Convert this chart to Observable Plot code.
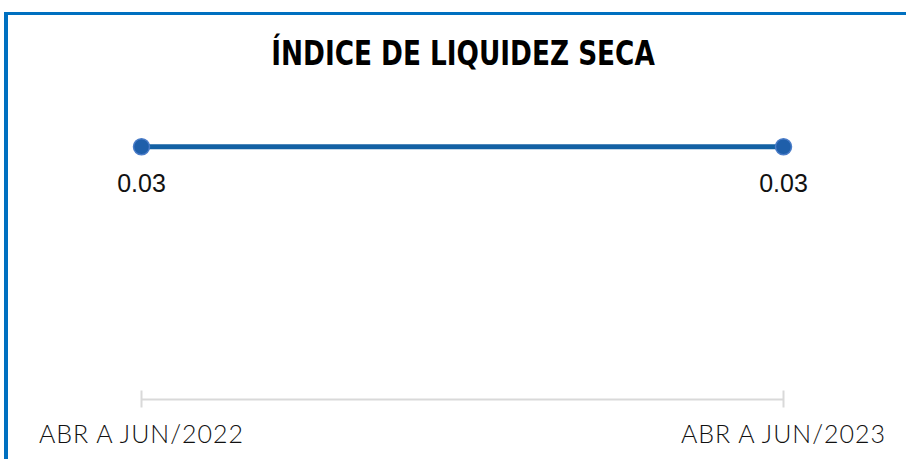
<!DOCTYPE html>
<html>
<head>
<meta charset="utf-8">
<script src="https://cdn.jsdelivr.net/npm/d3@7"></script>
<script src="https://cdn.jsdelivr.net/npm/@observablehq/plot@0.6"></script>
<style>
  html, body { margin: 0; padding: 0; background: #fff; overflow: hidden; }
  #wrap { position: relative; width: 906px; height: 459px; overflow: hidden; }
  #topline { position: absolute; left: 4px; top: 12px; width: 902px; height: 3px; background: #0070C0; }
  #leftline { position: absolute; left: 4px; top: 12px; width: 4px; height: 447px; background: #0070C0; }
  #title { position: absolute; left: 0; width: 926px; top: 30px; text-align: center;
           font-family: "DejaVu Sans Condensed", "Liberation Sans Narrow", sans-serif;
           font-weight: bold; font-size: 34px; color: #000; line-height: 46px;
           transform: scaleX(0.86); transform-origin: 463px 0; white-space: nowrap; }
  #chart { position: absolute; left: 0; top: 0; }
</style>
</head>
<body>
<div id="wrap">
  <div id="topline"></div>
  <div id="leftline"></div>
  <div id="title">ÍNDICE DE LIQUIDEZ SECA</div>
  <div id="chart"></div>
</div>
<script>
const periods = ["ABR A JUN/2022", "ABR A JUN/2023"];
const values = [0.03, 0.03];
const labels = ["0.03", "0.03"];

const data = periods.map((p, i) => ({period: p, value: values[i], label: labels[i]}));

const chart = Plot.plot({
  width: 906,
  height: 459,
  marginLeft: 141,
  marginRight: 123,
  marginTop: 62,
  marginBottom: 60,
  style: {background: "transparent", overflow: "visible"},
  x: {type: "point", domain: periods, padding: 0, label: null},
  y: {domain: [0, 0.04], axis: null},
  marks: [
    Plot.ruleY([0], {stroke: "#d9d9d9", strokeWidth: 2}),
    Plot.axisX({tickSize: 17, dy: -8.5, stroke: "#d9d9d9", strokeWidth: 2, tickFormat: () => "", label: null}),
    Plot.axisX({tickSize: 0, tickPadding: 26, fontSize: 25, fill: "#111", fontWeight: 300,
                fontFamily: "Lato, 'Open Sans', sans-serif", label: null}),
    Plot.line(data, {x: "period", y: "value", stroke: "#1361A4", strokeWidth: 5}),
    Plot.dot(data, {x: "period", y: "value", r: 8, fill: "#1F5FAA", stroke: "#4A7CC8", strokeWidth: 1.5}),
    Plot.text(data, {x: "period", y: "value", text: "label", dy: 37, fontSize: 25,
                     fontFamily: "'Liberation Sans', Arial, sans-serif", fill: "#111"})
  ]
});
chart.querySelectorAll("text").forEach(t => {
  if (t.textContent.startsWith("ABR")) t.style.letterSpacing = "1px";
});
document.getElementById("chart").appendChild(chart);
</script>
</body>
</html>
